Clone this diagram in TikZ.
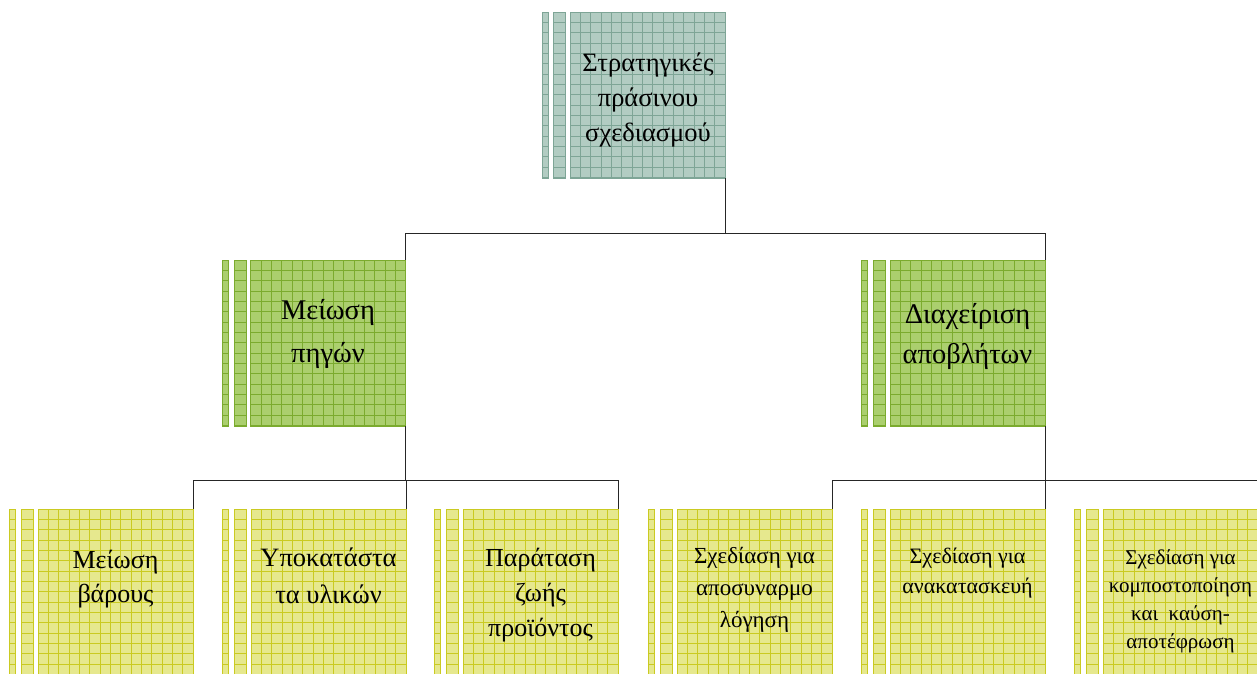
\documentclass[tikz,border=0pt]{standalone}
\usepackage{fontspec}
\setmainfont{Liberation Serif}
\definecolor{topfill}{HTML}{B2CCC2}
\definecolor{topline}{HTML}{7EA596}
\definecolor{midfill}{HTML}{ABCF6E}
\definecolor{midline}{HTML}{7BAB2E}
\definecolor{botfill}{HTML}{E6E88E}
\definecolor{botline}{HTML}{CACA22}
\newcommand\gridin[1]{%
  \foreach \i in {1,...,16}{\draw[#1, line width=0.6pt] ([xshift=\i*10.333pt]path picture bounding box.north west) -- ([xshift=\i*10.333pt]path picture bounding box.south west);}%
  \foreach \i in {1,...,17}{\draw[#1, line width=0.6pt] ([yshift=-\i*10.333pt]path picture bounding box.north west) -- ([yshift=-\i*10.333pt]path picture bounding box.north east);}%
}
\newcommand\hgridin[1]{%
  \foreach \i in {1,...,17}{\draw[#1, line width=0.6pt] ([yshift=-\i*10.333pt]path picture bounding box.north west) -- ([yshift=-\i*10.333pt]path picture bounding box.north east);}%
}
\tikzset{
  mainbox/.style={line width=0.8pt, minimum width=155pt, minimum height=166pt, inner sep=0pt},
  barbox/.style={line width=0.8pt, minimum height=166pt, inner sep=0pt},
  topmain/.style={mainbox, draw=topline, fill=topfill, path picture={\gridin{topline}}},
  topbar/.style={barbox, draw=topline, fill=topfill, path picture={\hgridin{topline}}},
  midmain/.style={mainbox, draw=midline, fill=midfill, path picture={\gridin{midline}}},
  midbar/.style={barbox, draw=midline, fill=midfill, path picture={\hgridin{midline}}},
  botmain/.style={mainbox, draw=botline, fill=botfill, path picture={\gridin{botline}}},
  botbar/.style={barbox, draw=botline, fill=botfill, path picture={\hgridin{botline}}},
  bartxt/.style={align=center, inner sep=0pt, text=black},
  conn/.style={draw=black!85, line width=0.9pt},
}
\begin{document}
\begin{tikzpicture}[x=1pt,y=-1pt]
\clip (0,0) rectangle (1257,673);
\useasboundingbox (0,0) rectangle (1257,673);
% top
\node[topbar, minimum width=6pt] (tb1) at (545,95) {};
\node[topbar, minimum width=12pt] (tb2) at (559,95) {};
\node[topmain] (top) at (647.5,95) {};
\node[bartxt, font=\fontsize{26.5}{35}\selectfont] (toptxt) at (648,100) {Στρατηγικές\\πράσινου\\σχεδιασμού};
% middle left
\node[midbar, minimum width=6pt] (mlb1) at (225,343) {};
\node[midbar, minimum width=12pt] (mlb2) at (240,343) {};
\node[midmain] (ml) at (328,343) {};
\node[bartxt, font=\fontsize{28.5}{43}\selectfont] (mltxt) at (328,334) {Μείωση\\πηγών};
% middle right
\node[midbar, minimum width=6pt] (mrb1) at (864,343) {};
\node[midbar, minimum width=12pt] (mrb2) at (879,343) {};
\node[midmain] (mr) at (967.5,343) {};
\node[bartxt, font=\fontsize{28.5}{40}\selectfont] (mrtxt) at (967.5,336) {Διαχείριση\\αποβλήτων};
% bottom
\foreach \n/\L in {b1/38, b2/251, b3/463, b4/677, b5/890, b6/1103}{
  \node[botbar, minimum width=6pt] (\n bar1) at ({\L-25.5},592) {};
  \node[botbar, minimum width=12pt] (\n bar2) at ({\L-11},592) {};
  \node[botmain] (\n) at ({\L+77.5},592) {};
}
\node[bartxt, font=\fontsize{26}{34}\selectfont] (b1txt) at (115.5,579) {Μείωση\\βάρους};
\node[bartxt, font=\fontsize{26.5}{37}\selectfont] (b2txt) at (328.5,576) {Υποκατάστα\\τα υλικών};
\node[bartxt, font=\fontsize{26}{35}\selectfont] (b3txt) at (540.5,595) {Παράταση\\ζωής\\προϊόντος};
\node[bartxt, font=\fontsize{23}{32}\selectfont] (b4txt) at (754.5,590) {Σχεδίαση για\\αποσυναρμο\\λόγηση};
\node[bartxt, font=\fontsize{22}{30}\selectfont] (b5txt) at (967.5,573) {Σχεδίαση για\\ανακατασκευή};
\node[bartxt, font=\fontsize{21}{28}\selectfont] (b6txt) at (1180.5,601) {Σχεδίαση για\\κομποστοποίηση\\και\ \ καύση-\\αποτέφρωση};
% connectors
\draw[conn] (top.south east) |- ([yshift=26pt]ml.north east) -- (ml.north east);
\draw[conn] (top.south east) |- ([yshift=26pt]mr.north east) -- (mr.north east);
\draw[conn] (ml.south east) |- ([yshift=28pt]b1.north east) -- (b1.north east);
\draw[conn] (ml.south east) |- ([yshift=28pt]b2.north east) -- (b2.north east);
\draw[conn] (ml.south east) |- ([yshift=28pt]b3.north east) -- (b3.north east);
\draw[conn] (mr.south east) |- ([yshift=28pt]b4.north east) -- (b4.north east);
\draw[conn] (mr.south east) |- ([yshift=28pt]b5.north east) -- (b5.north east);
\draw[conn] (mr.south east) |- ([yshift=28pt]b6.north east) -- (b6.north east);
\end{tikzpicture}
\end{document}
